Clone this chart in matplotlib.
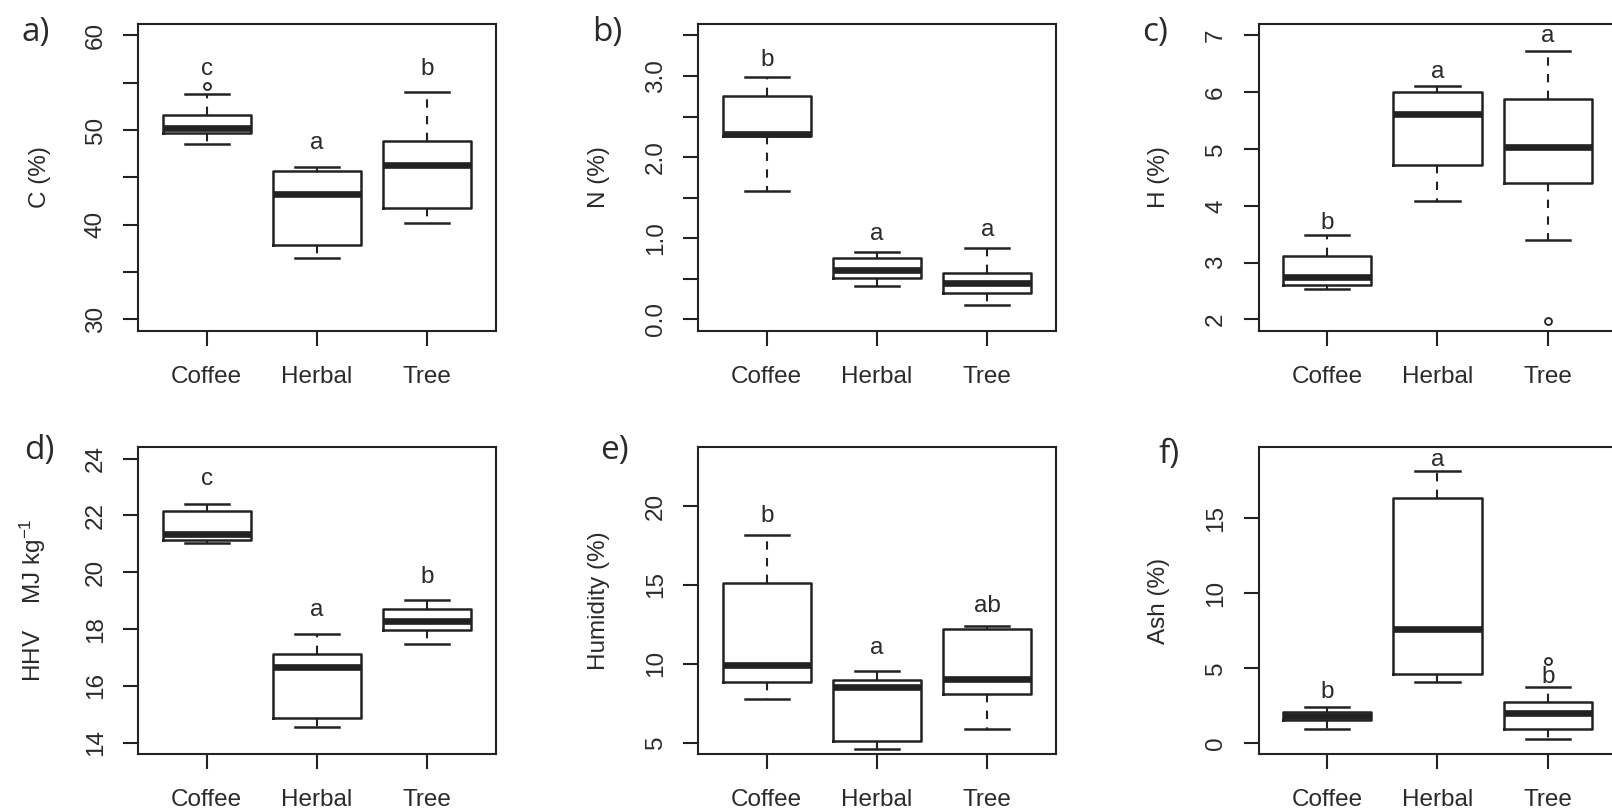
import numpy as np
import matplotlib
matplotlib.use("Agg")
import matplotlib.pyplot as plt

plt.rcParams["font.family"] = ["Liberation Sans", "DejaVu Sans"]
plt.rcParams["mathtext.fontset"] = "custom"
plt.rcParams["mathtext.rm"] = "Liberation Sans"
plt.rcParams["mathtext.it"] = "Liberation Sans:italic"
plt.rcParams["mathtext.bf"] = "Liberation Sans:bold"

groups = ["Coffee", "Herbal", "Tree"]

# Five-number summaries per group: (lower whisker, Q1, median, Q3, upper whisker)
carbon = [(48.53, 49.69, 50.22, 51.56, 53.84),
          (36.50, 37.84, 43.26, 45.72, 46.10),
          (40.20, 41.78, 46.28, 48.89, 54.02)]
carbon_out = [[54.69], [], []]
carbon_letters = ["c", "a", "b"]
carbon_letter_y = [55.85, 48.04, 55.78]

nitrogen = [(1.578, 2.26, 2.29, 2.754, 2.988),
            (0.411, 0.514, 0.608, 0.760, 0.830),
            (0.173, 0.320, 0.452, 0.575, 0.884)]
nitrogen_out = [[], [], []]
nitrogen_letters = ["b", "a", "a"]
nitrogen_letter_y = [3.124, 0.978, 1.028]

hydrogen = [(2.53, 2.60, 2.745, 3.11, 3.48),
            (4.08, 4.72, 5.61, 6.005, 6.11),
            (3.395, 4.41, 5.03, 5.88, 6.72)]
hydrogen_out = [[], [], [1.98]]
hydrogen_letters = ["b", "a", "a"]
hydrogen_letter_y = [3.594, 6.25, 6.877]

hhv = [(21.03, 21.15, 21.36, 22.16, 22.42),
       (14.54, 14.86, 16.65, 17.14, 17.84),
       (17.46, 17.96, 18.28, 18.70, 19.04)]
hhv_out = [[], [], []]
hhv_letters = ["c", "a", "b"]
hhv_letter_y = [23.06, 18.47, 19.64]

humidity = [(7.77, 8.87, 9.92, 15.10, 18.16),
            (4.60, 5.13, 8.54, 8.96, 9.56),
            (5.89, 8.06, 9.04, 12.18, 12.39)]
humidity_out = [[], [], []]
humidity_letters = ["b", "a", "ab"]
humidity_letter_y = [19.01, 10.62, 13.26]

ash = [(0.91, 1.49, 1.80, 2.03, 2.41),
       (4.08, 4.57, 7.58, 16.34, 18.19),
       (0.245, 0.94, 1.96, 2.74, 3.70)]
ash_out = [[], [], [5.49]]
ash_letters = ["b", "a", "b"]
ash_letter_y = [2.96, 18.52, 3.97]

# y-axis ranges, tick positions and labelled ticks
carbon_ylim = (30, 60)
carbon_ticks = [30, 35, 40, 45, 50, 55, 60]
carbon_ticklabels = ["30", "", "40", "", "50", "", "60"]
nitrogen_ylim = (0, 3.5)
nitrogen_ticks = [0, 0.5, 1.0, 1.5, 2.0, 2.5, 3.0, 3.5]
nitrogen_ticklabels = ["0.0", "", "1.0", "", "2.0", "", "3.0", ""]
hydrogen_ylim = (2, 7)
hydrogen_ticks = [2, 3, 4, 5, 6, 7]
hydrogen_ticklabels = ["2", "3", "4", "5", "6", "7"]
hhv_ylim = (14, 24)
hhv_ticks = [14, 16, 18, 20, 22, 24]
hhv_ticklabels = ["14", "16", "18", "20", "22", "24"]
humidity_ylim = (5, 23)
humidity_ticks = [5, 10, 15, 20]
humidity_ticklabels = ["5", "10", "15", "20"]
ash_ylim = (0, 19)
ash_ticks = [0, 5, 10, 15]
ash_ticklabels = ["0", "5", "10", "15"]

panels = [
    ("a)", "C (%)", carbon, carbon_out, carbon_letters, carbon_letter_y,
     carbon_ylim, carbon_ticks, carbon_ticklabels),
    ("b)", "N (%)", nitrogen, nitrogen_out, nitrogen_letters, nitrogen_letter_y,
     nitrogen_ylim, nitrogen_ticks, nitrogen_ticklabels),
    ("c)", "H (%)", hydrogen, hydrogen_out, hydrogen_letters, hydrogen_letter_y,
     hydrogen_ylim, hydrogen_ticks, hydrogen_ticklabels),
    ("d)", "HHV    MJ kg$^{-1}$", hhv, hhv_out, hhv_letters, hhv_letter_y,
     hhv_ylim, hhv_ticks, hhv_ticklabels),
    ("e)", "Humidity (%)", humidity, humidity_out, humidity_letters, humidity_letter_y,
     humidity_ylim, humidity_ticks, humidity_ticklabels),
    ("f)", "Ash (%)", ash, ash_out, ash_letters, ash_letter_y,
     ash_ylim, ash_ticks, ash_ticklabels),
]

W, H = 1612, 811
fig = plt.figure(figsize=(W / 100, H / 100), dpi=100)
fig.patch.set_facecolor("white")

INK = "#222222"
TXT = "#2a2a2a"
FS = 17.5

col_left = [138.4, 698.4, 1258.8]
row_top = [24.0, 447.3]
ax_w, ax_h = 357.3, 306.8
ylab_x = [39.6, 598.5, 1158.7]
tag_pos = [(36, 33), (607, 33), (1155, 33), (39, 451), (614, 451), (1169, 455)]


def px(x, y):
    return x / W, 1 - y / H


for k, (tag, ylabel, stats5, outs, letters, letter_y, ylim, ticks, ticklabels) in enumerate(panels):
    r, c = divmod(k, 3)
    left, top = col_left[c], row_top[r]
    ax = fig.add_axes([left / W, 1 - (top + ax_h) / H, ax_w / W, ax_h / H])

    stats = []
    for (lo, q1, med, q3, hi), fl in zip(stats5, outs):
        stats.append(dict(whislo=lo, q1=q1, med=med, q3=q3, whishi=hi, fliers=fl))

    ax.bxp(stats, positions=[1, 2, 3], widths=0.8, showfliers=True,
           boxprops=dict(color=INK, linewidth=1.8),
           medianprops=dict(color=INK, linewidth=4.8, solid_capstyle="butt"),
           whiskerprops=dict(color=INK, linewidth=1.5, linestyle=(0, (4, 4))),
           capprops=dict(color=INK, linewidth=1.8),
           flierprops=dict(marker="o", markerfacecolor="none", markeredgecolor=INK,
                           markersize=5, markeredgewidth=1.3))

    lo, hi = ylim
    pad = 0.04 * (hi - lo)
    ax.set_ylim(lo - pad, hi + pad)
    ax.set_xlim(0.38, 3.62)
    ax.set_yticks(ticks)
    ax.set_yticklabels(ticklabels)
    ax.set_xticks([1, 2, 3])
    ax.set_xticklabels(groups)

    for s in ax.spines.values():
        s.set_linewidth(1.5)
        s.set_color(INK)
    ax.tick_params(axis="both", direction="out", length=10.8, width=1.5,
                   color=INK, labelsize=FS, labelcolor=TXT)
    ax.tick_params(axis="x", pad=14.5)
    ax.tick_params(axis="y", pad=12)
    for t in ax.get_yticklabels():
        t.set_rotation(90)
        t.set_va("center")
        t.set_ha("right")

    for i, (lt, ly) in enumerate(zip(letters, letter_y)):
        ax.text(i + 1, ly, lt, ha="center", va="baseline", fontsize=FS, color=TXT)

    cy = top + ax_h / 2
    lx = ylab_x[c] if k != 3 else 33
    fig.text(*px(lx, cy), ylabel, rotation=90, ha="center", va="center",
             fontsize=FS, color=TXT)

    tx, ty = tag_pos[k]
    fig.text(*px(tx, ty), tag, ha="center", va="center", fontsize=24,
             color=TXT, family=["Open Sans", "DejaVu Sans"])

fig.savefig("out.png", dpi=100, facecolor="white")
